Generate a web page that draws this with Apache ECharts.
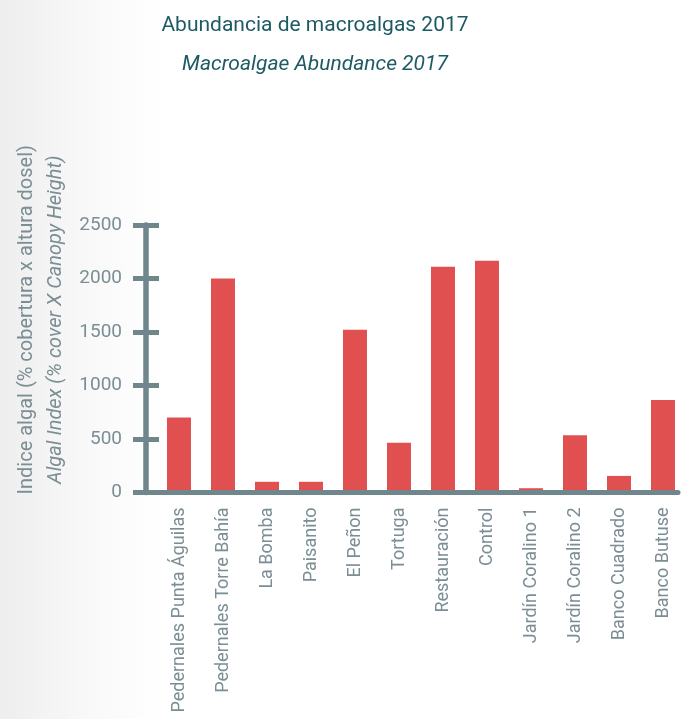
<!DOCTYPE html>
<html>
<head>
<meta charset="utf-8">
<script src="https://cdn.jsdelivr.net/npm/echarts@6/dist/echarts.min.js"></script>
<style>
  html, body { margin: 0; padding: 0; }
  body { background: linear-gradient(90deg, #eeeeee 0%, #f8f8f8 12%, #ffffff 24%); }
  #chart { width: 687px; height: 719px; }
</style>
</head>
<body>
<div id="chart"></div>
<script>
// datos
const sitios = [
  "Pedernales Punta Águilas", "Pedernales Torre Bahía", "La Bomba", "Paisanito",
  "El Peñon", "Tortuga", "Restauración", "Control",
  "Jardín Coralino 1", "Jardín Coralino 2", "Banco Cuadrado", "Banco Butuse"
];
const indiceAlgal = [700, 2000, 100, 100, 1520, 465, 2110, 2165, 40, 535, 155, 865];
const yMin = 0, yMax = 2500, yStep = 500;

const axisGray = "#6f868c";
const textGray = "#7b8e94";
const teal = "#1d5a63";

let chart = echarts.init(document.getElementById("chart"));
chart.setOption({
  animation: false,
  title: {
    text: "Abundancia de macroalgas 2017",
    subtext: "Macroalgae Abundance 2017",
    left: 310,
    textAlign: "center",
    top: 10,
    itemGap: 18,
    textStyle: { fontFamily: "Roboto", fontSize: 21, fontWeight: "normal", color: teal },
    subtextStyle: { fontFamily: "Roboto", fontSize: 21, fontStyle: "italic", color: teal }
  },
  grid: [
    { left: 157, right: 2, top: 225, bottom: 226.5 },   // barras
    { left: 146, right: 9, top: 225, bottom: 226.5 }    // ejes
  ],
  xAxis: [
    {
      type: "category", gridIndex: 0, data: sitios,
      axisLine: { show: false }, axisTick: { show: false },
      axisLabel: { rotate: 90, margin: 15, fontFamily: "Roboto", fontSize: 18, color: textGray, interval: 0 }
    },
    {
      type: "value", gridIndex: 1, z: 5,
      axisLine: { show: true, onZero: false, lineStyle: { color: axisGray, width: 5 } },
      axisTick: { show: false }, axisLabel: { show: false }, splitLine: { show: false }
    }
  ],
  yAxis: [
    {
      type: "value", gridIndex: 0, min: yMin, max: yMax, interval: yStep, show: false
    },
    {
      type: "value", gridIndex: 1, position: "left", min: yMin, max: yMax, interval: yStep, z: 5,
      axisLine: { show: true, lineStyle: { color: axisGray, width: 5.5 } },
      axisTick: { show: true, length: 13, lineStyle: { color: axisGray, width: 5 } },
      axisLabel: { margin: 24, fontFamily: "Roboto", fontSize: 19, color: textGray, formatter: v => String(v) },
      splitLine: { show: false },
      name: "{a|Indice algal (% cobertura x altura dosel)}\n{b|Algal Index (% cover X Canopy Height)}",
      nameLocation: "middle",
      nameGap: 76,
      nameRotate: 90,
      nameTextStyle: {
        padding: [0, 0, 0, 78],
        rich: {
          a: { fontFamily: "Roboto", fontSize: 20, color: textGray, lineHeight: 29 },
          b: { fontFamily: "Roboto", fontSize: 20, fontStyle: "italic", color: textGray, lineHeight: 29 }
        }
      }
    },
    {
      type: "value", gridIndex: 1, position: "left", offset: 0, min: yMin, max: yMax, interval: yStep, z: 5,
      axisLine: { show: false },
      axisTick: { show: true, inside: true, length: 13, lineStyle: { color: axisGray, width: 5 } },
      axisLabel: { show: false }, splitLine: { show: false }
    }
  ],
  series: [{
    type: "bar",
    xAxisIndex: 0, yAxisIndex: 0,
    data: indiceAlgal,
    barWidth: 24,
    itemStyle: { color: "#e05050" }
  }]
});
</script>
</body>
</html>
